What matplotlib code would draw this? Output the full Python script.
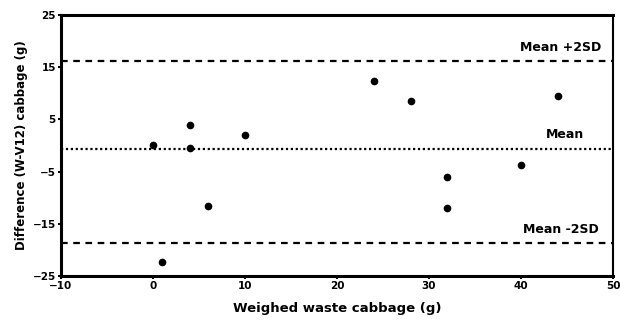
import matplotlib
matplotlib.use("Agg")
from matplotlib import pyplot as plt

# weighed waste cabbage (g) vs difference W - V12 (g)
weighed = [0, 4, 4, 10, 6, 1, 24, 28, 44, 40, 32, 32]
difference = [0.1, 4.0, -0.5, 2.0, -11.5, -22.3, 12.3, 8.5, 9.5, -3.8, -6.0, -11.9]

mean_diff = -0.7
upper_2sd = 16.2
lower_2sd = -18.6

x_ticks = [-10, 0, 10, 20, 30, 40, 50]
y_ticks = [-25, -15, -5, 5, 15, 25]

plt.rcParams['font.family'] = ['DejaVu Sans']
plt.rcParams['font.weight'] = 'bold'

fig = plt.figure(figsize=(6.2, 3.29), dpi=100)
ax = fig.add_axes([0.098, 0.161, 0.891, 0.793])

ax.axhline(upper_2sd, color='black', linestyle=(0, (3, 2.5)), linewidth=1.6)
ax.axhline(lower_2sd, color='black', linestyle=(0, (3, 2.5)), linewidth=1.6)
ax.axhline(mean_diff, color='black', linestyle=(0, (1, 1.2)), linewidth=1.6)

ax.plot(weighed, difference, 'o', color='black', markersize=4.5)

ax.text(48.7, upper_2sd + 1.4, "Mean +2SD", ha='right', va='bottom', fontsize=9, fontweight='bold')
ax.text(46.8, mean_diff + 1.6, "Mean", ha='right', va='bottom', fontsize=9, fontweight='bold')
ax.text(48.4, lower_2sd + 1.3, "Mean -2SD", ha='right', va='bottom', fontsize=9, fontweight='bold')

ax.set_xlim(-10, 50)
ax.set_ylim(-25, 25)
ax.set_xticks(x_ticks)
ax.set_yticks(y_ticks)
ax.tick_params(axis='both', labelsize=7.5, length=2, width=1.5, pad=1.5)
for lab in ax.get_xticklabels() + ax.get_yticklabels():
    lab.set_fontweight('bold')

for side in ['left', 'bottom', 'top']:
    ax.spines[side].set_linewidth(2.2)
ax.spines['right'].set_linewidth(1.5)

ax.set_xlabel("Weighed waste cabbage (g)", fontsize=9.5, fontweight='bold', labelpad=8)
ax.set_ylabel("Difference (W-V12) cabbage (g)", fontsize=8.5, fontweight='bold', labelpad=3)

fig.savefig("out.png", dpi=100)
